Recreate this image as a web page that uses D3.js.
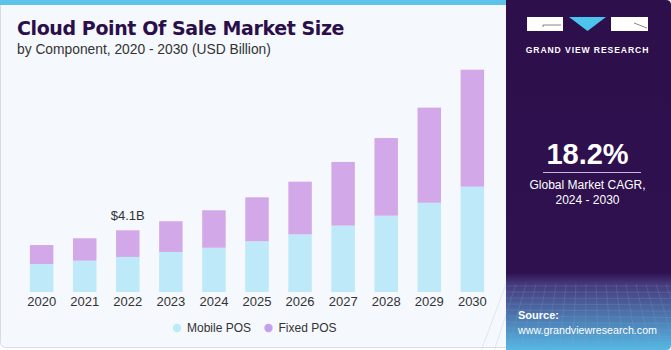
<!DOCTYPE html>
<html>
<head>
<meta charset="utf-8">
<script src="https://cdn.jsdelivr.net/npm/d3@7"></script>
<style>
  body { margin: 0; background: #ffffff; }
  svg { display: block; font-family: "Liberation Sans", Arial, sans-serif; }
</style>
</head>
<body>
<svg id="chart" width="671" height="350"></svg>
<script>
// values (USD billion)
const years = ["2020", "2021", "2022", "2023", "2024", "2025", "2026", "2027", "2028", "2029", "2030"];
const mobilePOS = [1.86, 2.08, 2.33, 2.66, 2.94, 3.37, 3.83, 4.41, 5.07, 5.93, 7.00];
const fixedPOS = [1.26, 1.49, 1.77, 2.04, 2.49, 2.92, 3.50, 4.23, 5.16, 6.32, 7.77];
const seriesNames = ["Mobile POS", "Fixed POS"];
const seriesColors = ["#bde9f9", "#d3a8e8"];
const legendColors = ["#b9ecf5", "#c5a0ea"];

let dimensions = {
    width: 506, height: 350,
    margin: { top: 60, bottom: 58, left: 20, right: 12 }
};

var svg = d3.select("#chart");
var defs = svg.append("defs");

// left panel background
svg.append("rect")
    .attr("x", 0.5).attr("y", 0.5)
    .attr("width", 530).attr("height", 347)
    .attr("rx", 5)
    .attr("fill", "#f5f8fc")
    .attr("stroke", "#d8dde5");
svg.append("rect")
    .attr("x", 0).attr("y", 0)
    .attr("width", 510).attr("height", 5)
    .attr("fill", "#5cc3ea");

// right panel
var grad = defs.append("linearGradient")
    .attr("id", "panelGrad").attr("x1", 0).attr("y1", 0).attr("x2", 0).attr("y2", 1);
grad.append("stop").attr("offset", "0%").attr("stop-color", "#2d0f4b");
grad.append("stop").attr("offset", "78%").attr("stop-color", "#2f1150");
grad.append("stop").attr("offset", "81%").attr("stop-color", "#45377a");
grad.append("stop").attr("offset", "100%").attr("stop-color", "#54b9e4");

svg.append("path")
    .attr("d", "M506,0 H666 Q671,0 671,5 V345 Q671,350 666,350 H506 Z")
    .attr("fill", "url(#panelGrad)");

// faint grid in the lower part of the panel
var gridGroup = svg.append("g").attr("stroke", "#8fa6d6").attr("stroke-opacity", 0.35).attr("stroke-width", 0.6);
d3.range(286, 350, 6).forEach(yy => {
    gridGroup.append("line").attr("x1", 506).attr("x2", 671).attr("y1", yy).attr("y2", yy + (yy - 286) * 0.05);
});
d3.range(506, 671, 10).forEach(xx => {
    gridGroup.append("line").attr("x1", xx).attr("x2", xx + (xx - 588) * 0.3).attr("y1", 284).attr("y2", 350);
});

// logo
svg.append("rect").attr("x", 527).attr("y", 17).attr("width", 36).attr("height", 14).attr("fill", "#ffffff");
svg.append("path").attr("d", "M543,27 V25 H561").attr("fill", "none").attr("stroke", "#555").attr("stroke-width", 0.7);
svg.append("path").attr("d", "M569,17 L606,17 L587.5,31 Z").attr("fill", "#4cc4ee");
svg.append("rect").attr("x", 611).attr("y", 17).attr("width", 37).attr("height", 14).attr("fill", "#ffffff");
svg.append("path").attr("d", "M634,23 L647,28").attr("stroke", "#555").attr("stroke-width", 0.7);
svg.append("text")
    .attr("x", 587.5).attr("y", 53)
    .attr("text-anchor", "middle")
    .attr("font-size", "8.6px").attr("font-weight", "bold")
    .attr("letter-spacing", "0.9px")
    .attr("fill", "#ffffff")
    .text("GRAND VIEW RESEARCH");

// CAGR block
svg.append("text")
    .attr("x", 587.5).attr("y", 164)
    .attr("text-anchor", "middle")
    .attr("font-size", "29px").attr("font-weight", "bold")
    .attr("fill", "#ffffff")
    .text("18.2%");
svg.append("line")
    .attr("x1", 543).attr("x2", 641).attr("y1", 172.5).attr("y2", 172.5)
    .attr("stroke", "#c9b6e0").attr("stroke-width", 1);
svg.append("text")
    .attr("x", 587.5).attr("y", 189)
    .attr("text-anchor", "middle")
    .attr("font-size", "12px").attr("fill", "#ffffff")
    .text("Global Market CAGR,");
svg.append("text")
    .attr("x", 587.5).attr("y", 204)
    .attr("text-anchor", "middle")
    .attr("font-size", "12px").attr("fill", "#ffffff")
    .text("2024 - 2030");

// source
svg.append("text")
    .attr("x", 518).attr("y", 319)
    .attr("font-size", "11px").attr("font-weight", "bold")
    .attr("fill", "#ffffff")
    .text("Source:");
svg.append("text")
    .attr("x", 518).attr("y", 334)
    .attr("font-size", "10.7px")
    .attr("fill", "#ffffff")
    .text("www.grandviewresearch.com");

// title
svg.append("text")
    .attr("x", 17).attr("y", 35)
    .attr("font-size", "19px").attr("font-weight", "900")
    .attr("font-family", "'DejaVu Sans', sans-serif")
    .attr("letter-spacing", "-0.4px")
    .attr("fill", "#2b0f4a")
    .text("Cloud Point Of Sale Market Size");
svg.append("text")
    .attr("x", 17).attr("y", 54)
    .attr("font-size", "13.8px")
    .attr("fill", "#333333")
    .text("by Component, 2020 - 2030 (USD Billion)");

// stacked data
let rows = years.map((yr, i) => ({ year: yr, mobile: mobilePOS[i], fixed: fixedPOS[i] }));
let stack = d3.stack().keys(["mobile", "fixed"])(rows);

var x = d3.scaleBand()
    .domain(years)
    .range([dimensions.margin.left, dimensions.width - dimensions.margin.right])
    .paddingInner(0.455)
    .paddingOuter(0.23);

var y = d3.scaleLinear()
    .domain([0, 14.77])
    .range([dimensions.height - dimensions.margin.bottom, 69.7]);

var chartGroup = svg.append("g");

chartGroup.selectAll("g.series")
    .data(stack)
    .join("g")
    .attr("class", "series")
    .attr("fill", (d, i) => seriesColors[i])
    .selectAll("rect")
    .data(d => d)
    .join("rect")
    .attr("x", d => x(d.data.year))
    .attr("y", d => y(d[1]))
    .attr("width", x.bandwidth())
    .attr("height", d => y(d[0]) - y(d[1]));

// x axis
var xAxis = chartGroup.append("g")
    .attr("transform", "translate(0," + (dimensions.height - dimensions.margin.bottom) + ")")
    .call(d3.axisBottom(x).tickSize(0).tickPadding(5));
xAxis.select(".domain").remove();
xAxis.selectAll("text")
    .attr("font-size", "13px")
    .attr("font-family", "'Liberation Sans', Arial, sans-serif")
    .attr("fill", "#333333");

// value label
chartGroup.append("text")
    .attr("x", x("2022") + x.bandwidth() / 2)
    .attr("y", y(mobilePOS[2] + fixedPOS[2]) - 10)
    .attr("text-anchor", "middle")
    .attr("font-size", "13px")
    .attr("fill", "#333333")
    .text("$4.1B");

// legend
var legend = svg.append("g");
let legendX = [177, 268.5];
seriesNames.forEach((name, i) => {
    legend.append("circle")
        .attr("cx", legendX[i]).attr("cy", 328)
        .attr("r", 4.2)
        .attr("fill", legendColors[i]);
    legend.append("text")
        .attr("x", legendX[i] + 10).attr("y", 332)
        .attr("font-size", "12px")
        .attr("fill", "#333333")
        .text(name);
});
</script>
</body>
</html>
